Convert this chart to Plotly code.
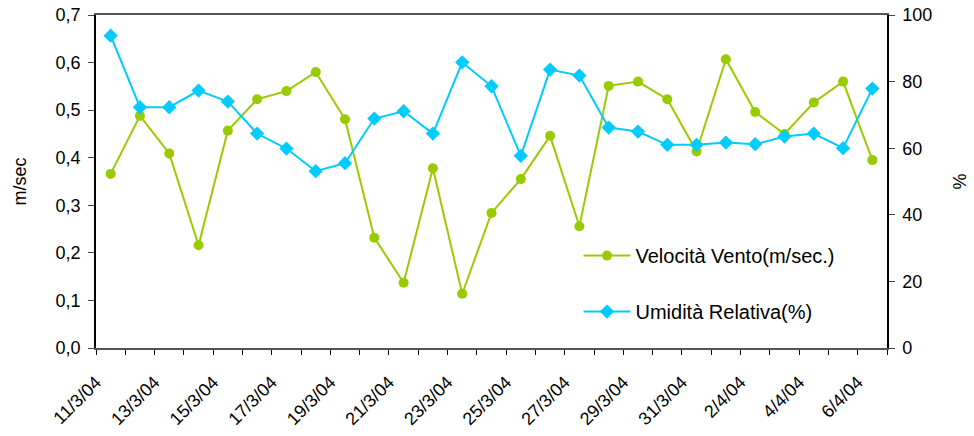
import plotly.graph_objects as go

dates = ["11/3/04", "12/3/04", "13/3/04", "14/3/04", "15/3/04", "16/3/04", "17/3/04",
         "18/3/04", "19/3/04", "20/3/04", "21/3/04", "22/3/04", "23/3/04", "24/3/04",
         "25/3/04", "26/3/04", "27/3/04", "28/3/04", "29/3/04", "30/3/04", "31/3/04",
         "1/4/04", "2/4/04", "3/4/04", "4/4/04", "5/4/04", "6/4/04"]

velocita = [0.366, 0.488, 0.409, 0.216, 0.457, 0.523, 0.540, 0.580, 0.481, 0.232,
            0.137, 0.378, 0.114, 0.284, 0.355, 0.446, 0.256, 0.551, 0.560, 0.523,
            0.413, 0.607, 0.496, 0.450, 0.516, 0.560, 0.395]

umidita = [93.8, 72.3, 72.3, 77.3, 74.0, 64.4, 59.9, 53.1, 55.5, 68.9, 71.1, 64.4,
           85.8, 78.6, 57.7, 83.6, 81.8, 66.2, 65.0, 61.0, 61.0, 61.7, 61.2, 63.5,
           64.4, 60.0, 77.9]

# category positions on a linear axis (one slot per date)
xpos = list(range(len(dates)))
# Excel-style labels: every other date, placed at the left boundary of its slot
label_pos = [i - 0.5 for i in xpos[::2]]
label_text = dates[::2]

GREEN = "#99CC00"
BLUE = "#00CCFF"
FONT = "Liberation Sans, Arial, sans-serif"

fig = go.Figure()
fig.add_trace(go.Scatter(
    x=xpos, y=velocita, name="Velocità Vento(m/sec.)", mode="lines+markers",
    line=dict(color=GREEN, width=2),
    marker=dict(symbol="circle", size=10, color=GREEN),
    customdata=dates, hovertemplate="%{customdata}: %{y}<extra></extra>",
    legendgroup="a", yaxis="y"))
fig.add_trace(go.Scatter(
    x=xpos, y=umidita, name="Umidità Relativa(%)", mode="lines+markers",
    line=dict(color=BLUE, width=2),
    marker=dict(symbol="diamond", size=11, color=BLUE),
    customdata=dates, hovertemplate="%{customdata}: %{y}<extra></extra>",
    legendgroup="b", yaxis="y2"))

fig.update_layout(
    width=974, height=436,
    margin=dict(l=96, r=87, t=15, b=88, autoexpand=False),
    paper_bgcolor="white", plot_bgcolor="white",
    font=dict(family=FONT, size=18, color="black"),
    separators=", ",
    showlegend=True,
    legend=dict(x=0.61, y=0.336, xanchor="left", yanchor="top",
                bgcolor="rgba(0,0,0,0)", font=dict(size=20),
                traceorder="grouped", tracegroupgap=27, itemwidth=47),
    xaxis=dict(
        type="linear", range=[-0.5, len(dates) - 0.5],
        tickmode="array", tickvals=label_pos, ticktext=label_text,
        ticks="outside", ticklen=5, tickcolor="black",
        minor=dict(tick0=-0.5, dtick=1, ticks="outside", ticklen=5,
                   tickcolor="black", showgrid=False),
        tickangle=-45, showgrid=False, zeroline=False, automargin=False,
        showline=True, linecolor="#555555", linewidth=1.5, mirror=True,
        ticklabelstandoff=10, tickfont=dict(size=18)),
    yaxis=dict(
        range=[0, 0.7], dtick=0.1, tickformat=".1f", showgrid=False, zeroline=False,
        showline=True, linecolor="black", linewidth=1.5, ticks="outside", ticklen=6,
        automargin=False, ticklabelstandoff=4,
        title=dict(text="m/sec", font=dict(size=18), standoff=24),
        tickfont=dict(size=18)),
    yaxis2=dict(
        range=[0, 100], dtick=20, overlaying="y", side="right", showgrid=False,
        zeroline=False, showline=True, linecolor="black", linewidth=1.5,
        ticks="outside", ticklen=6, automargin=False, ticklabelstandoff=4,
        title=dict(text="%", font=dict(size=18), standoff=22),
        tickfont=dict(size=18)),
)

fig.write_html("out.html", config={"displayModeBar": False},
               post_script="document.body.style.margin='0';")
